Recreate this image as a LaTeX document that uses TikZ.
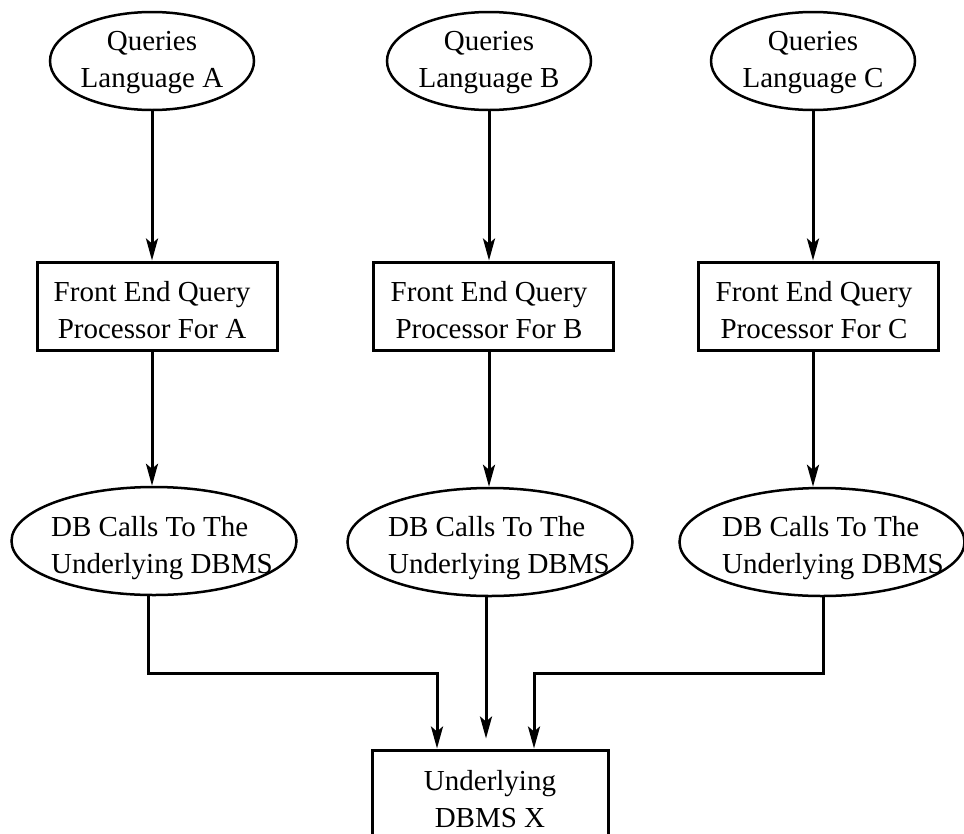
\documentclass[tikz,border=0pt]{standalone}
\usepackage{fontspec}
\setmainfont{Liberation Serif}
\usetikzlibrary{shapes.geometric,arrows.meta}
\begin{document}
\begin{tikzpicture}[x=1pt,y=-1pt,
  txt/.style={font=\fontsize{29}{37}\selectfont, align=center, inner sep=0pt},
  ltxt/.style={txt, align=left, anchor=west},
  oval/.style={draw, ellipse, line width=2.5pt, inner sep=0pt},
  topoval/.style={oval, minimum width=204pt, minimum height=98pt},
  lowoval/.style={oval, minimum width=285pt, minimum height=108pt},
  procbox/.style={draw, rectangle, line width=3pt, inner sep=0pt,
                  minimum width=240pt, minimum height=88pt},
  flow/.style={line width=3pt, -{Stealth[length=22pt,width=12pt,inset=5pt]}},
  line join=miter]
\useasboundingbox (0,0) rectangle (964,833);
\clip (0,0) rectangle (964,833);

% query languages
\node[topoval] (qa) at (152,61) {};
\node[txt] (qa-t) at (152,63) {Queries\\Language A};
\node[topoval] (qb) at (489,61) {};
\node[txt] (qb-t) at (489,63) {Queries\\Language B};
\node[topoval] (qc) at (813,61) {};
\node[txt] (qc-t) at (813,63) {Queries\\Language C};

% front end processors
\node[procbox] (pa) at (157,306) {};
\node[txt] (pa-t) at (152,310) {Front End Query\\Processor For A};
\node[procbox] (pb) at (493,306) {};
\node[txt] (pb-t) at (489,310) {Front End Query\\Processor For B};
\node[procbox] (pc) at (818,306) {};
\node[txt] (pc-t) at (814,310) {Front End Query\\Processor For C};

% DB calls
\node[lowoval] (la) at (154,541) {};
\node[ltxt] (la-t) at (51,548) {DB Calls To The\\Underlying DBMS};
\node[lowoval] (lb) at (490,542) {};
\node[ltxt] (lb-t) at (388,548) {DB Calls To The\\Underlying DBMS};
\node[lowoval] (lc) at (822,542) {};
\node[ltxt] (lc-t) at (722,548) {DB Calls To The\\Underlying DBMS};

% underlying DBMS
\node[procbox, minimum width=236pt, minimum height=96pt] (x) at (490,798) {};
\node[txt] (x-t) at (490,799) {Underlying\\DBMS X};

% vertical flows
\draw[flow] (qa.south) -- (qa.south |- pa.north);
\draw[flow] (qb.south) -- (qb.south |- pb.north);
\draw[flow] (qc.south) -- (qc.south |- pc.north);
\draw[flow] (pa.south -| qa.south) -- (qa.south |- la.north);
\draw[flow] (pb.south -| qb.south) -- (qb.south |- lb.north);
\draw[flow] (pc.south -| qc.south) -- (qc.south |- lc.north);

% merging into DBMS X
\coordinate (ja) at (148,673);
\coordinate (jc) at (823,673);
\coordinate (xa) at (437,0);
\coordinate (xb) at (486,0);
\coordinate (xc) at (534,0);
\draw[flow] (la.south -| ja) -- (ja) -- (ja -| xa) -- (xa |- x.north);
\draw[flow, shorten >=10pt] (lb.south -| xb) -- (xb |- x.north);
\draw[flow] (lc.south -| jc) -- (jc) -- (jc -| xc) -- (xc |- x.north);
\end{tikzpicture}
\end{document}
